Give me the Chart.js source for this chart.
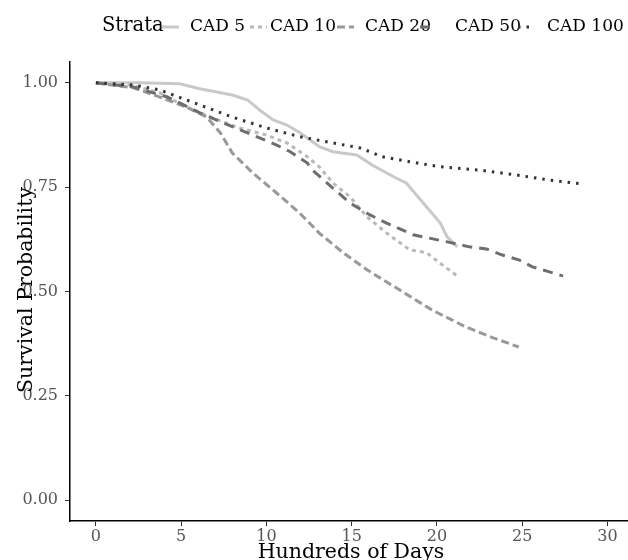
<!DOCTYPE html>
<html>
<head>
<meta charset="utf-8">
<script src="https://cdn.jsdelivr.net/npm/chart.js@4"></script>
<style>
  body { margin: 0; background: #fff; }
  #wrap { width: 628px; height: 560px; }
</style>
</head>
<body>
<div id="wrap"><canvas id="survChart" width="628" height="560"></canvas></div>
<script>
// Kaplan-Meier style curves, one per stratum (time in hundreds of days)
const strata = ['CAD 5', 'CAD 10', 'CAD 20', 'CAD 50', 'CAD 100'];

const cad5Time = [0, 2.6, 4.9, 6.1, 8.0, 8.9, 9.6, 10.4, 11.2, 12.0, 13.1, 13.9, 15.3, 16.2, 17.6, 18.2, 19.2, 20.2, 20.6, 21.2];
const cad5Surv = [1, 1, 0.998, 0.986, 0.971, 0.959, 0.935, 0.911, 0.899, 0.880, 0.847, 0.835, 0.827, 0.803, 0.772, 0.760, 0.712, 0.664, 0.631, 0.607];

const cad10Time = [0, 2.0, 3.75, 5.3, 6.85, 8.4, 10.0, 11.2, 12.4, 13.1, 13.9, 14.9, 15.9, 17.05, 18.4, 19.4, 20.15, 21.2];
const cad10Surv = [1, 0.995, 0.976, 0.942, 0.916, 0.892, 0.875, 0.856, 0.823, 0.799, 0.760, 0.727, 0.679, 0.640, 0.600, 0.593, 0.569, 0.537];

const cad20Time = [0, 2.2, 3.75, 5.3, 6.5, 7.3, 8.0, 9.2, 10.6, 11.95, 13.1, 14.5, 15.9, 17.8, 19.7, 21.7, 23.3, 24.8];
const cad20Surv = [1, 0.988, 0.966, 0.942, 0.918, 0.880, 0.832, 0.784, 0.736, 0.688, 0.640, 0.593, 0.552, 0.504, 0.456, 0.415, 0.389, 0.367];

const cad50Time = [0, 2.2, 4.2, 6.1, 8.0, 9.6, 10.6, 11.4, 12.4, 12.7, 13.9, 14.9, 16.05, 17.05, 18.6, 20.6, 21.9, 22.9, 23.8, 24.8, 25.6, 26.6, 27.4];
const cad50Surv = [1, 0.990, 0.966, 0.928, 0.895, 0.868, 0.851, 0.835, 0.808, 0.791, 0.748, 0.712, 0.684, 0.664, 0.636, 0.619, 0.607, 0.602, 0.588, 0.576, 0.559, 0.547, 0.537];

const cad100Time = [0, 2.2, 3.75, 6.1, 8.0, 10.0, 11.95, 13.9, 15.5, 16.8, 18.4, 20.15, 22.5, 24.7, 26.6, 28.5];
const cad100Surv = [1, 0.995, 0.983, 0.947, 0.918, 0.892, 0.871, 0.856, 0.844, 0.823, 0.811, 0.799, 0.791, 0.779, 0.767, 0.758];

const xTicks = [0, 5, 10, 15, 20, 25, 30];
const yTicks = [0, 0.25, 0.5, 0.75, 1];

const seriesTime = [cad5Time, cad10Time, cad20Time, cad50Time, cad100Time];
const seriesSurv = [cad5Surv, cad10Surv, cad20Surv, cad50Surv, cad100Surv];

// line styles (grey scale, ggplot-ish linetypes)
const lineColors = ['#c9c9c9', '#b9b9b9', '#999999', '#6e6e6e', '#333333'];
const lineDashes = [[], [4, 4], [8, 4], [10, 7], [2.5, 6]];

const serif = 'DejaVu Serif';

const datasets = strata.map((name, i) => ({
  label: name,
  data: seriesTime[i].map((t, j) => ({ x: t, y: seriesSurv[i][j] })),
  borderColor: lineColors[i],
  borderDash: lineDashes[i],
  borderWidth: 3,
  borderCapStyle: 'butt',
  pointRadius: 0,
  tension: 0,
  fill: false,
  order: strata.length - i
}));

// hand drawn legend + axis titles
const legendKeyX = [162, 250, 337, 420, 518];
const legendTextX = [190, 270, 365, 455, 547];

const decorPlugin = {
  id: 'decor',
  afterDraw(chart) {
    const ctx = chart.ctx;
    ctx.save();
    ctx.fillStyle = '#000';
    ctx.textBaseline = 'alphabetic';

    ctx.font = '19.5px "' + serif + '"';
    ctx.textAlign = 'left';
    ctx.fillText('Strata', 102, 31);

    strata.forEach((name, i) => {
      ctx.save();
      ctx.strokeStyle = lineColors[i];
      ctx.lineWidth = 3;
      ctx.setLineDash(lineDashes[i]);
      ctx.beginPath();
      ctx.moveTo(legendKeyX[i], 27);
      ctx.lineTo(legendKeyX[i] + 17, 27);
      ctx.stroke();
      ctx.restore();
      ctx.font = '17px "' + serif + '"';
      ctx.fillStyle = '#000';
      ctx.fillText(name, legendTextX[i], 31);
    });

    // axis titles
    ctx.font = '20.5px "' + serif + '"';
    ctx.textAlign = 'center';
    ctx.fillText('Hundreds of Days', 351, 558);

    ctx.translate(32, 290);
    ctx.rotate(-Math.PI / 2);
    ctx.fillText('Survival Probability', 0, 0);
    ctx.restore();
  }
};

new Chart(document.getElementById('survChart'), {
  type: 'line',
  data: { datasets },
  plugins: [decorPlugin],
  options: {
    responsive: false,
    animation: false,
    layout: { padding: { top: 62, right: 1, left: 0, bottom: 0 } },
    plugins: {
      legend: { display: false },
      tooltip: { enabled: false }
    },
    scales: {
      x: {
        type: 'linear',
        min: -1.52,
        max: 31.15,
        afterFit: (scale) => { scale.height = 39; },
        afterBuildTicks: (scale) => { scale.ticks = xTicks.map(v => ({ value: v })); },
        grid: { drawOnChartArea: false, drawTicks: true, tickLength: 5, tickColor: '#333' },
        border: { display: true, color: '#000', width: 1.5 },
        ticks: {
          padding: 1,
          color: '#555',
          maxRotation: 0,
          font: { family: serif, size: 16 },
          callback: (v) => String(v)
        }
      },
      y: {
        type: 'linear',
        min: -0.05,
        max: 1.05,
        afterFit: (scale) => { scale.width = 70; },
        afterBuildTicks: (scale) => { scale.ticks = yTicks.map(v => ({ value: v })); },
        grid: { drawOnChartArea: false, drawTicks: true, tickLength: 5, tickColor: '#333' },
        border: { display: true, color: '#000', width: 1.5 },
        ticks: {
          padding: 7,
          color: '#555',
          font: { family: serif, size: 16 },
          callback: (v) => v.toFixed(2)
        }
      }
    }
  }
});
</script>
</body>
</html>
